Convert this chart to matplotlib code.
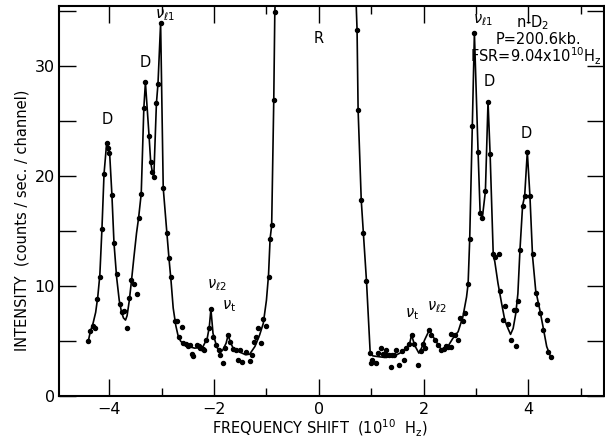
import matplotlib
matplotlib.use("Agg")
import matplotlib.pyplot as plt
from matplotlib.ticker import MultipleLocator

# ── Measured points (frequency shift in 1e10 Hz, counts/sec/channel) ──
left_x = [-4.40, -4.36, -4.32, -4.27, -4.23, -4.18, -4.14, -4.10, -4.05, -4.03,
          -4.00, -3.95, -3.91, -3.85, -3.80, -3.76, -3.72, -3.67, -3.63, -3.58,
          -3.53, -3.47, -3.44, -3.39, -3.34, -3.31, -3.24, -3.21, -3.18, -3.15,
          -3.10, -3.07, -3.02, -2.97, -2.90, -2.86, -2.82, -2.75, -2.71, -2.67,
          -2.62, -2.59, -2.54, -2.49, -2.46, -2.42, -2.40, -2.33, -2.29, -2.26,
          -2.22, -2.19, -2.16, -2.09, -2.06, -2.02, -1.97, -1.91, -1.88, -1.83,
          -1.79, -1.73, -1.69, -1.64, -1.58, -1.54, -1.51, -1.46, -1.39, -1.32,
          -1.28, -1.24, -1.20, -1.16, -1.11, -1.06, -1.01, -0.96, -0.93, -0.90,
          -0.86, -0.84]
left_y = [5.0, 5.9, 6.4, 6.15, 8.8, 10.8, 15.2, 20.2, 23.0, 22.5,
          22.1, 18.3, 13.9, 11.1, 8.4, 7.6, 7.7, 6.15, 8.9, 10.5,
          10.2, 9.3, 16.2, 18.4, 26.2, 28.5, 23.6, 21.3, 20.4, 19.9,
          26.6, 28.4, 33.9, 18.9, 14.8, 12.5, 10.8, 6.8, 6.8, 5.4,
          6.3, 4.8, 4.7, 4.55, 4.6, 3.8, 3.6, 4.6, 4.55, 4.4,
          4.3, 4.2, 5.1, 6.2, 7.9, 5.4, 4.6, 4.2, 3.7, 3.0,
          4.4, 5.55, 4.9, 4.25, 4.2, 3.3, 4.2, 3.1, 4.0, 3.2,
          3.7, 4.9, 5.4, 6.15, 4.8, 7.0, 6.4, 10.8, 14.3, 15.5,
          26.9, 34.9]

right_x = [0.73, 0.75, 0.81, 0.85, 0.91, 0.97, 1.00, 1.02, 1.09, 1.13,
           1.19, 1.23, 1.29, 1.29, 1.34, 1.37, 1.40, 1.44, 1.48, 1.53,
           1.58, 1.62, 1.67, 1.72, 1.77, 1.82, 1.90, 1.95, 1.99, 2.03,
           2.10, 2.15, 2.21, 2.28, 2.34, 2.39, 2.43, 2.47, 2.53, 2.53,
           2.60, 2.65, 2.69, 2.75, 2.80, 2.85, 2.88, 2.93, 2.97, 3.04,
           3.08, 3.12, 3.18, 3.23, 3.27, 3.33, 3.37, 3.44, 3.46, 3.51,
           3.56, 3.61, 3.66, 3.72, 3.76, 3.77, 3.80, 3.84, 3.89, 3.93,
           3.98, 4.03, 4.08, 4.15, 4.17, 4.23, 4.28, 4.35, 4.38, 4.43]
right_y = [33.3, 26.0, 17.8, 14.85, 10.45, 3.9, 3.0, 3.3, 3.0, 3.9,
           4.4, 3.8, 4.2, 3.7, 3.7, 2.6, 3.7, 3.7, 4.2, 2.85,
           4.1, 3.3, 4.35, 4.7, 5.55, 4.7, 2.8, 4.1, 4.7, 4.4,
           6.0, 5.55, 5.05, 4.6, 4.2, 4.3, 4.55, 4.45, 4.45, 5.65,
           5.55, 5.05, 7.05, 6.8, 7.55, 10.15, 14.25, 24.5, 33.0, 22.2,
           16.6, 16.15, 18.6, 26.75, 22.0, 12.9, 12.6, 12.9, 9.55, 6.95,
           8.15, 6.5, 5.1, 7.8, 7.8, 4.5, 8.65, 13.3, 17.3, 18.2,
           22.2, 18.2, 12.9, 9.35, 8.4, 7.5, 6.0, 6.9, 4.0, 3.5]

# ── Hand-drawn fitted curve ──
fit_left_x = [-4.40, -4.36, -4.31, -4.26, -4.22, -4.18, -4.14, -4.10, -4.05, -4.02,
              -3.99, -3.95, -3.91, -3.86, -3.81, -3.77, -3.73, -3.69, -3.66, -3.62,
              -3.58, -3.53, -3.48, -3.44, -3.39, -3.34, -3.31, -3.24, -3.21, -3.18,
              -3.15, -3.10, -3.07, -3.02, -2.97, -2.90, -2.86, -2.82, -2.78, -2.73,
              -2.69, -2.64, -2.58, -2.49, -2.37, -2.27, -2.21, -2.13, -2.09, -2.06,
              -2.02, -1.95, -1.89, -1.83, -1.77, -1.73, -1.69, -1.64, -1.51, -1.40,
              -1.32, -1.22, -1.13, -1.06, -1.00, -0.96, -0.93, -0.90, -0.86, -0.84,
              -0.83]
fit_left_y = [5.0, 5.9, 6.6, 7.6, 9.0, 11.0, 15.2, 20.2, 23.0, 22.4,
              21.8, 18.3, 13.9, 10.8, 8.7, 7.7, 7.1, 6.9, 7.3, 8.6,
              10.3, 12.6, 14.8, 16.2, 18.4, 26.2, 28.5, 23.6, 21.3, 20.4,
              19.9, 26.6, 28.4, 33.9, 18.9, 14.8, 12.5, 10.4, 8.0, 6.4,
              5.55, 5.0, 4.7, 4.5, 4.35, 4.4, 4.5, 5.25, 6.3, 7.9,
              5.7, 4.5, 3.9, 4.2, 4.8, 5.55, 4.9, 4.4, 4.0, 3.75,
              3.8, 4.5, 5.55, 6.6, 8.7, 11.0, 14.3, 15.5, 26.9, 34.9,
              36.0]

fit_right_x = [0.71, 0.73, 0.75, 0.81, 0.85, 0.91, 0.98, 1.03, 1.10, 1.26,
               1.42, 1.55, 1.67, 1.74, 1.77, 1.83, 1.91, 1.96, 2.02, 2.11,
               2.18, 2.34, 2.47, 2.56, 2.66, 2.75, 2.82, 2.85, 2.88, 2.93,
               2.97, 3.04, 3.08, 3.12, 3.18, 3.23, 3.27, 3.33, 3.36, 3.42,
               3.49, 3.55, 3.61, 3.66, 3.71, 3.76, 3.80, 3.84, 3.89, 3.93,
               3.98, 4.03, 4.08, 4.14, 4.22, 4.28, 4.35, 4.43]
fit_right_y = [36.0, 33.3, 26.0, 17.8, 14.85, 10.45, 4.0, 3.65, 3.6, 3.5,
               3.6, 3.9, 4.35, 4.9, 5.55, 4.6, 3.9, 4.35, 5.1, 6.0,
               5.4, 4.2, 4.55, 5.25, 5.85, 7.2, 9.0, 10.2, 14.2, 24.5,
               33.0, 22.2, 16.6, 16.15, 18.6, 26.75, 22.0, 12.8, 12.2, 10.25,
               8.4, 6.9, 6.15, 5.6, 6.15, 7.5, 9.3, 13.3, 17.3, 18.2,
               22.2, 18.2, 12.7, 9.6, 7.8, 6.3, 4.5, 3.5]

# peak labels: (text, x, y)
peak_labels = [
    ("D", -4.03, 25.1), ("D", -3.32, 30.3), (r"$\nu_{\ell 1}$", -2.94, 34.6),
    (r"$\nu_{\ell 2}$", -1.95, 10.1), (r"$\nu_{\rm t}$", -1.71, 8.2),
    ("R", 0.0, 32.5),
    (r"$\nu_{\rm t}$", 1.78, 7.4), (r"$\nu_{\ell 2}$", 2.25, 8.1),
    (r"$\nu_{\ell 1}$", 3.14, 34.2), ("D", 3.25, 28.6), ("D", 3.96, 23.9),
]

fig = plt.figure(figsize=(6.05, 4.4), dpi=100)
ax = fig.add_axes([0.0975, 0.1, 0.9005, 0.8864])

for fx, fy in [(fit_left_x, fit_left_y), (fit_right_x, fit_right_y)]:
    ax.plot(fx, fy, color="black", lw=1.2)
for dx, dy in [(left_x, left_y), (right_x, right_y)]:
    ax.plot(dx, dy, "o", color="black", ms=2.9, ls="none")

for txt, tx, ty in peak_labels:
    ax.text(tx, ty, txt, ha="center", va="center", fontsize=10.5)

ax.text(4.08, 33.9, "n-D$_2$", ha="center", va="center", fontsize=10.5)
ax.text(4.20, 32.4, "P=200.6kb.", ha="center", va="center", fontsize=10.5)
ax.text(5.40, 30.85, r"FSR=9.04x10$^{10}$H$_{\rm z}$", ha="right", va="center",
        fontsize=10.5)

ax.set_xlim(-4.96, 5.44)
ax.set_ylim(0, 35.45)
ax.xaxis.set_major_locator(MultipleLocator(2))
ax.xaxis.set_minor_locator(MultipleLocator(1))
ax.yaxis.set_major_locator(MultipleLocator(10))
ax.yaxis.set_minor_locator(MultipleLocator(5))
ax.tick_params(which="both", direction="in", top=True, right=True,
               width=1.0, labelsize=11.5)
ax.tick_params(which="major", length=12.5)
ax.tick_params(axis="x", which="minor", length=6)
ax.tick_params(axis="y", which="minor", length=12.5)
ax.tick_params(axis="x", pad=4)
ax.tick_params(axis="y", pad=3)
for s in ax.spines.values():
    s.set_linewidth(1.5)

ax.set_xlabel(r"FREQUENCY SHIFT  (10$^{10}$  H$_{\rm z}$)", fontsize=10.5)
ax.set_ylabel("INTENSITY  (counts / sec. / channel)", fontsize=10.5)
ax.xaxis.set_label_coords(0.479, -0.056)
ax.yaxis.set_label_coords(-0.055, 0.451)

plt.savefig("out.png", dpi=100)
